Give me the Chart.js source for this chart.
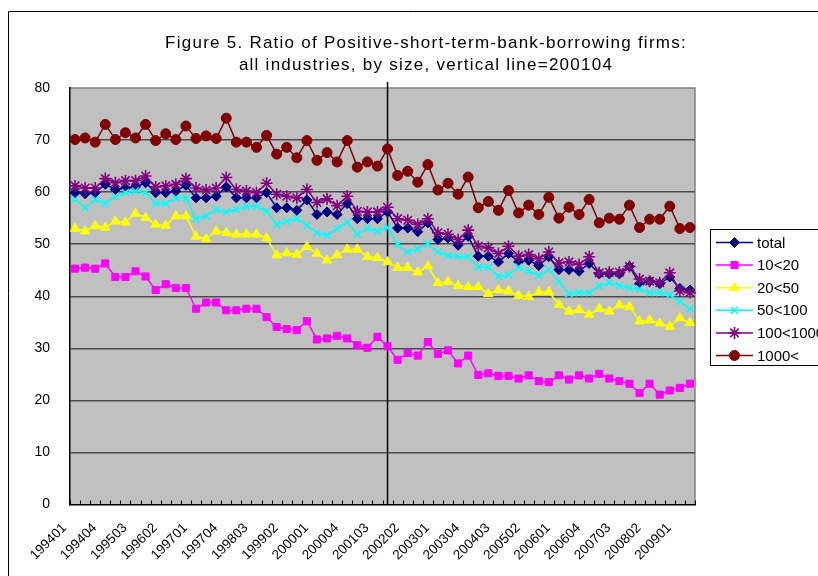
<!DOCTYPE html>
<html>
<head>
<meta charset="utf-8">
<script src="https://cdn.jsdelivr.net/npm/chart.js@4"></script>
<style>
  html, body { margin: 0; padding: 0; background: #fff; }
  #wrap { position: relative; width: 818px; height: 576px; overflow: hidden; }
</style>
</head>
<body>
<div id="wrap"><canvas id="ratioChart" width="818" height="576"></canvas></div>
<script>
const quarters = [
  "199401","199402","199403","199404","199501","199502","199503","199504",
  "199601","199602","199603","199604","199701","199702","199703","199704",
  "199801","199802","199803","199804","199901","199902","199903","199904",
  "200001","200002","200003","200004","200101","200102","200103","200104",
  "200201","200202","200203","200204","200301","200302","200303","200304",
  "200401","200402","200403","200404","200501","200502","200503","200504",
  "200601","200602","200603","200604","200701","200702","200703","200704",
  "200801","200802","200803","200804","200901","200902"
];
const markerQuarter = "200104";
const yTicks = [0, 10, 20, 30, 40, 50, 60, 70, 80];

const total = [
  59.9,59.7,59.9,61.5,60.5,60.8,61.0,61.8,59.9,59.9,
  60.2,61.3,58.9,58.9,59.2,61.0,58.9,58.9,58.9,59.9,
  57.0,57.0,56.5,58.5,55.7,56.2,55.7,57.8,54.9,54.9,
  54.9,56.2,53.1,53.1,52.4,54.1,50.9,51.2,49.8,51.5,
  47.7,47.7,46.6,48.2,46.6,46.9,45.9,47.6,45.1,45.1,
  44.8,46.3,44.3,44.3,44.3,45.7,42.4,42.9,42.4,43.7,
  41.5,41.2
];
const size10to20 = [
  45.3,45.5,45.3,46.3,43.7,43.7,44.8,43.8,41.2,42.3,
  41.6,41.6,37.6,38.8,38.8,37.3,37.3,37.6,37.6,36.0,
  34.1,33.7,33.5,35.2,31.7,31.9,32.4,31.9,30.6,30.1,
  32.2,30.4,27.8,29.1,28.6,31.2,28.9,29.6,27.1,28.6,
  24.9,25.2,24.7,24.7,24.2,24.8,23.7,23.5,24.8,24.0,
  24.8,24.2,25.1,24.2,23.7,23.2,21.4,23.2,21.1,21.9,
  22.4,23.2
];
const size20to50 = [
  53.0,52.5,53.5,53.2,54.4,54.2,55.9,55.1,53.8,53.6,
  55.4,55.4,51.5,51.0,52.5,52.2,51.9,51.9,51.9,51.2,
  47.9,48.3,48.0,49.5,48.2,46.9,47.9,49.0,49.0,47.6,
  47.4,46.6,45.5,45.5,44.6,45.8,42.6,42.8,42.0,41.8,
  41.8,40.5,41.2,41.0,40.1,39.9,40.8,40.8,38.4,37.1,
  37.4,36.5,37.6,37.1,38.3,38.0,35.2,35.4,34.8,34.2,
  35.8,34.9
];
const size50to100 = [
  58.6,57.0,58.6,57.8,59.2,59.9,60.2,59.9,57.8,57.8,
  58.9,58.9,54.8,55.4,56.7,56.2,56.7,57.2,57.3,56.3,
  53.8,54.4,54.9,53.6,52.2,51.7,53.0,54.2,51.9,53.0,
  52.5,53.2,49.9,48.5,49.1,50.1,48.5,47.8,47.7,47.6,
  45.6,45.6,43.8,44.1,45.6,44.8,44.0,45.1,42.8,40.5,
  40.7,40.7,42.0,42.6,42.1,41.6,41.4,40.7,40.7,40.3,
  39.0,37.6
];
const size100to1000 = [
  61.2,60.8,60.8,62.6,61.8,62.2,62.2,63.1,61.0,61.2,
  61.5,62.6,60.8,60.4,60.8,62.8,60.5,60.2,59.9,61.7,
  59.6,59.2,58.9,60.5,58.0,58.7,57.4,59.2,56.3,56.2,
  56.2,57.1,54.9,54.6,53.8,54.9,52.2,51.9,50.9,52.7,
  49.6,49.3,48.2,49.6,47.7,48.0,47.2,48.5,46.4,46.6,
  46.1,47.6,44.5,44.6,44.6,45.7,43.3,42.9,42.6,44.5,
  41.0,40.7
];
const size1000up = [
  70.1,70.4,69.6,73.0,70.1,71.4,70.4,73.0,69.9,71.2,
  70.1,72.7,70.3,70.8,70.3,74.2,69.6,69.6,68.6,70.9,
  67.3,68.6,66.6,69.9,66.1,67.6,65.8,69.9,64.8,65.8,
  65.0,68.3,63.2,64.0,61.9,65.3,60.4,61.7,59.6,62.9,
  57.0,58.2,56.5,60.3,56.0,57.5,55.7,59.0,55.0,57.1,
  55.7,58.6,54.1,55.0,54.8,57.5,53.2,54.8,54.8,57.3,
  53.0,53.2
];

const seriesNames = ["total", "10<20", "20<50", "50<100", "100<1000", "1000<"];
const seriesValues = [total, size10to20, size20to50, size50to100, size100to1000, size1000up];
const seriesColors = ["#000080", "#ff00ff", "#ffff00", "#00ffff", "#800080", "#800000"];
const seriesPoints = ["rectRot", "rect", "triangle", "crossRot", "star", "circle"];

const titleLines = [
  "Figure 5. Ratio of Positive-short-term-bank-borrowing firms:",
  "all industries, by size, vertical line=200104"
];

const FONT = "'Liberation Sans', Arial, sans-serif";

const datasets = seriesNames.map((name, i) => ({
  label: name,
  data: seriesValues[i],
  borderColor: seriesColors[i],
  backgroundColor: seriesColors[i],
  pointBackgroundColor: seriesColors[i],
  pointBorderColor: seriesColors[i],
  pointStyle: seriesPoints[i],
  pointRadius: seriesPoints[i] === "star" ? 6 : (seriesPoints[i] === "triangle" ? 5.5 : 5),
  pointBorderWidth: seriesPoints[i] === "crossRot" || seriesPoints[i] === "star" ? 1.6 : 1,
  borderWidth: 1.5,
  tension: 0,
  order: seriesNames.length - i,
}));

// grey plot area, outer frame, axis tick marks, vertical marker line
const plotDecor = {
  id: "plotDecor",
  beforeDraw(chart) {
    const { ctx, chartArea: a } = chart;
    ctx.save();
    ctx.fillStyle = "#fff";
    ctx.fillRect(0, 0, chart.width, chart.height);
    ctx.strokeStyle = "#000";
    ctx.lineWidth = 1;
    ctx.beginPath();
    ctx.moveTo(8.5, chart.height);
    ctx.lineTo(8.5, 11.5);
    ctx.lineTo(chart.width, 11.5);
    ctx.stroke();
    ctx.fillStyle = "#c0c0c0";
    ctx.fillRect(a.left, a.top, a.right - a.left, a.bottom - a.top);
    ctx.strokeStyle = "#808080";
    ctx.lineWidth = 1.5;
    ctx.beginPath();
    ctx.moveTo(a.left, a.top);
    ctx.lineTo(a.right, a.top);
    ctx.lineTo(a.right, a.bottom);
    ctx.stroke();
    ctx.restore();
  },
  beforeDatasetsDraw(chart) {
    const { ctx, chartArea: a, scales } = chart;
    const x = scales.x;
    const step = x.getPixelForValue(1) - x.getPixelForValue(0);
    ctx.save();
    ctx.strokeStyle = "#000";
    ctx.lineWidth = 1;
    ctx.beginPath();
    for (let i = 0; i <= quarters.length; i++) {
      const px = Math.round(x.getPixelForValue(i) - step / 2) + 0.5;
      ctx.moveTo(px, a.bottom);
      ctx.lineTo(px, a.bottom - 4);
    }
    ctx.stroke();
    const vx = x.getPixelForValue(quarters.indexOf(markerQuarter));
    ctx.lineWidth = 1.5;
    ctx.beginPath();
    ctx.moveTo(vx, a.top - 6);
    ctx.lineTo(vx, a.bottom);
    ctx.stroke();
    ctx.restore();
  },
  afterDraw(chart) {
    const { ctx, chartArea: a } = chart;
    ctx.save();
    // title
    ctx.fillStyle = "#000";
    ctx.font = "17px " + FONT;
    ctx.letterSpacing = "1.25px";
    ctx.textAlign = "center";
    ctx.textBaseline = "alphabetic";
    ctx.fillText(titleLines[0], 426, 48);
    ctx.fillText(titleLines[1], 426, 70);
    ctx.letterSpacing = "0px";

    // legend
    const lx = a.right + 15, ly = 229, rowH = 22.6;
    ctx.strokeStyle = "#000";
    ctx.lineWidth = 1;
    ctx.strokeRect(lx + 0.5, ly + 0.5, 140, 136);
    ctx.font = "15px " + FONT;
    ctx.textAlign = "left";
    ctx.textBaseline = "middle";
    chart.data.datasets.forEach((ds, i) => {
      const y = ly + 13.5 + i * rowH;
      ctx.strokeStyle = ds.borderColor;
      ctx.lineWidth = 1.5;
      ctx.beginPath();
      ctx.moveTo(lx + 6, y);
      ctx.lineTo(lx + 43, y);
      ctx.stroke();
      ctx.fillStyle = ds.pointBackgroundColor;
      ctx.strokeStyle = ds.pointBorderColor;
      ctx.lineWidth = ds.pointBorderWidth;
      Chart.helpers.drawPoint(ctx, {
        pointStyle: ds.pointStyle,
        radius: ds.pointRadius,
        rotation: 0,
        borderWidth: ds.pointBorderWidth,
      }, lx + 24.5, y);
      ctx.fillStyle = "#000";
      ctx.fillText(ds.label, lx + 47, y + 1);
    });
    ctx.restore();
  }
};

new Chart(document.getElementById("ratioChart").getContext("2d"), {
  type: "line",
  data: { labels: quarters, datasets: datasets },
  options: {
    responsive: false,
    animation: false,
    devicePixelRatio: 1,
    layout: { padding: { left: 0, right: 123, top: 88, bottom: 0 } },
    plugins: {
      legend: { display: false },
      title: { display: false },
      tooltip: { enabled: false },
    },
    scales: {
      x: {
        type: "category",
        offset: true,
        afterFit: (s) => { s.height = 71.5; },
        grid: { display: false, drawTicks: false },
        border: { display: true, color: "#000", width: 1.5 },
        ticks: {
          autoSkip: false,
          minRotation: 45,
          maxRotation: 45,
          padding: 5,
          color: "#000",
          font: { family: FONT, size: 13.5 },
          callback: function (value, index) {
            // trailing spaces push the rotated label down-left like the original
            return index % 3 === 0 ? quarters[index] + "    " : "";
          },
        },
      },
      y: {
        min: 0,
        max: 80,
        afterFit: (s) => { s.width = 70; },
        afterBuildTicks: (s) => { s.ticks = yTicks.map((v) => ({ value: v })); },
        grid: {
          drawTicks: false,
          lineWidth: 1.5,
          color: (c) => (c.tick && (c.tick.value === 0 || c.tick.value === 80) ? "rgba(0,0,0,0)" : "#4a4a4a"),
        },
        border: { display: true, color: "#000", width: 1.5 },
        ticks: {
          padding: 20,
          color: "#000",
          font: { family: FONT, size: 14 },
        },
      },
    },
  },
  plugins: [plotDecor],
});
</script>
</body>
</html>
